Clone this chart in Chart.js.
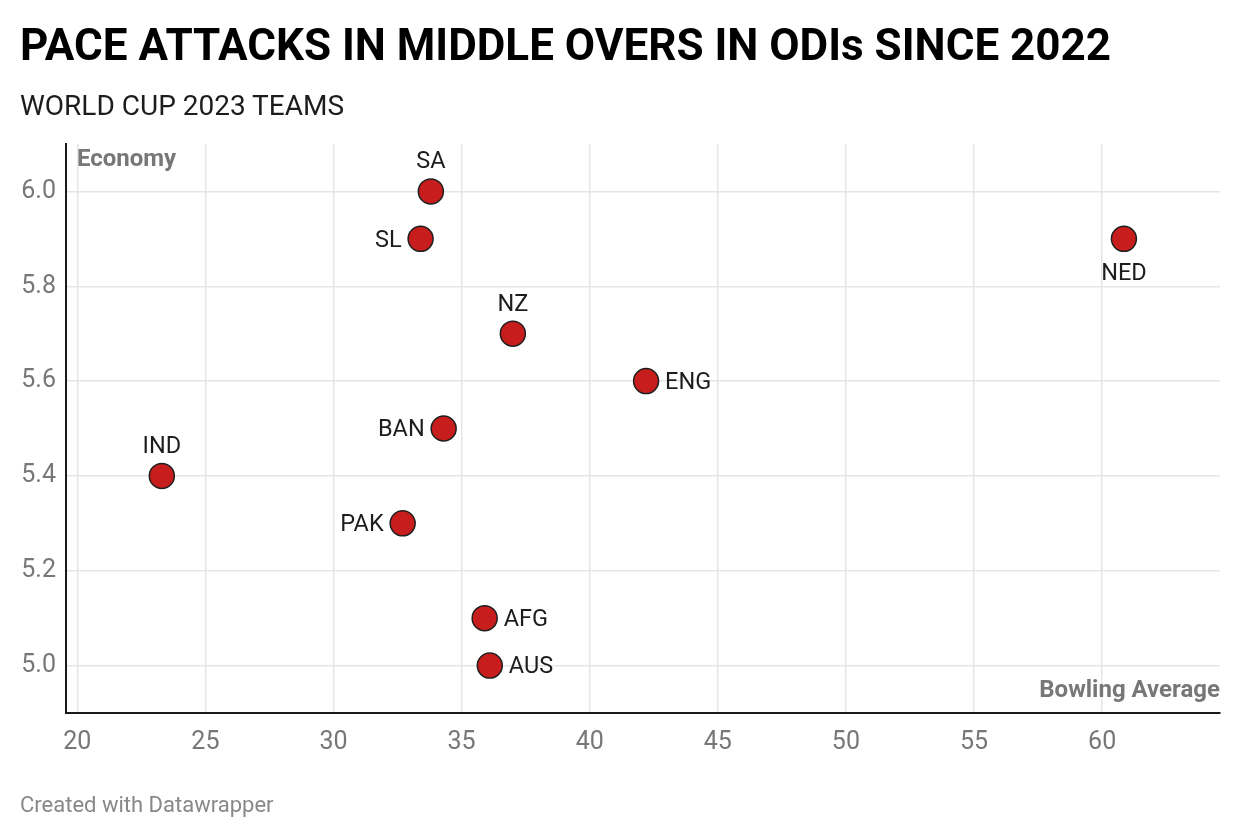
<!DOCTYPE html>
<html>
<head>
<meta charset="utf-8">
<script src="https://cdn.jsdelivr.net/npm/chart.js@4"></script>
<style>
  html, body { margin: 0; padding: 0; background: #fff; }
  body { width: 1240px; height: 840px; position: relative; overflow: hidden; font-family: Roboto, sans-serif; }
  #title { position: absolute; left: 20px; top: 19px; font-size: 44px; line-height: 52px; font-weight: 700; color: #000; white-space: nowrap; }
  #subtitle { position: absolute; left: 20px; top: 90px; font-size: 28px; line-height: 32px; font-weight: 400; color: #1d1d1d; white-space: nowrap; }
  #footer { position: absolute; left: 20px; top: 792px; font-size: 22px; line-height: 26px; color: #888; white-space: nowrap; }
  #wrap { position: absolute; left: 0; top: 0; width: 1240px; height: 840px; }
</style>
</head>
<body>
<div id="wrap"><canvas id="c" width="1240" height="840"></canvas></div>
<div id="title">PACE ATTACKS IN MIDDLE OVERS IN ODIs SINCE 2022</div>
<div id="subtitle">WORLD CUP 2023 TEAMS</div>
<div id="footer">Created with Datawrapper</div>
<script>
const teams = ["SA", "SL", "NZ", "ENG", "BAN", "IND", "PAK", "AFG", "AUS", "NED"];
const bowlingAverage = [33.8, 33.4, 37.0, 42.2, 34.3, 23.3, 32.7, 35.9, 36.1, 60.85];
const economy = [6.0, 5.9, 5.7, 5.6, 5.5, 5.4, 5.3, 5.1, 5.0, 5.9];
const labelSide = ["top", "left", "top", "right", "left", "top", "left", "right", "right", "bottom"];
const xTicks = [20, 25, 30, 35, 40, 45, 50, 55, 60];
const yTicks = [5.0, 5.2, 5.4, 5.6, 5.8, 6.0];

const FONT = "Roboto, sans-serif";

const labelPlugin = {
  id: 'pointLabels',
  afterDatasetsDraw(chart) {
    const ctx = chart.ctx;
    const meta = chart.getDatasetMeta(0);
    ctx.save();
    ctx.font = "23.5px " + FONT;
    ctx.fillStyle = "#1d1d1d";
    meta.data.forEach((el, i) => {
      const side = labelSide[i];
      let x = el.x, y = el.y;
      if (side === "top") { ctx.textAlign = "center"; ctx.textBaseline = "middle"; y -= 31; }
      else if (side === "bottom") { ctx.textAlign = "center"; ctx.textBaseline = "middle"; y += 33; }
      else if (side === "left") { ctx.textAlign = "right"; ctx.textBaseline = "middle"; x -= 19; }
      else { ctx.textAlign = "left"; ctx.textBaseline = "middle"; x += 19; }
      ctx.fillText(teams[i], x, y + 2);
    });
    const a = chart.chartArea;
    ctx.font = "bold 24px " + FONT;
    ctx.fillStyle = "#777";
    ctx.textAlign = "left"; ctx.textBaseline = "middle";
    ctx.fillText("Economy", 77, 160);
    ctx.textAlign = "right";
    ctx.fillText("Bowling Average", a.right, 691);
    ctx.restore();
  }
};

new Chart(document.getElementById('c'), {
  type: 'scatter',
  data: {
    datasets: [{
      data: bowlingAverage.map((v, i) => ({ x: v, y: economy[i] })),
      backgroundColor: '#c71e1d',
      borderColor: '#1f1f1f',
      borderWidth: 1.5,
      pointRadius: 12.5,
      pointHoverRadius: 12.5
    }]
  },
  options: {
    responsive: false,
    animation: false,
    devicePixelRatio: 1,
    layout: { padding: { left: 0, right: 20, top: 144, bottom: 0 } },
    plugins: { legend: { display: false }, tooltip: { enabled: false } },
    scales: {
      x: {
        type: 'linear', min: 19.56, max: 64.6,
        afterBuildTicks(s) { s.ticks = xTicks.map(v => ({ value: v })); },
        afterFit(s) { s.height = 840 - 713; },
        grid: { color: '#e5e5e5', lineWidth: 1.5, drawTicks: false },
        border: { color: '#1a1a1a', width: 2 },
        ticks: { padding: 15, color: '#777', font: { family: FONT, size: 25 }, callback: v => String(v) }
      },
      y: {
        type: 'linear', min: 4.9, max: 6.1,
        afterBuildTicks(s) { s.ticks = yTicks.map(v => ({ value: v })); },
        afterFit(s) { s.width = 66; },
        grid: { color: '#e5e5e5', lineWidth: 1.5, drawTicks: false },
        border: { color: '#1a1a1a', width: 2 },
        ticks: { padding: 10, color: '#777', font: { family: FONT, size: 25 }, callback: v => Number(v).toFixed(1) }
      }
    }
  },
  plugins: [labelPlugin]
});
</script>
</body>
</html>
